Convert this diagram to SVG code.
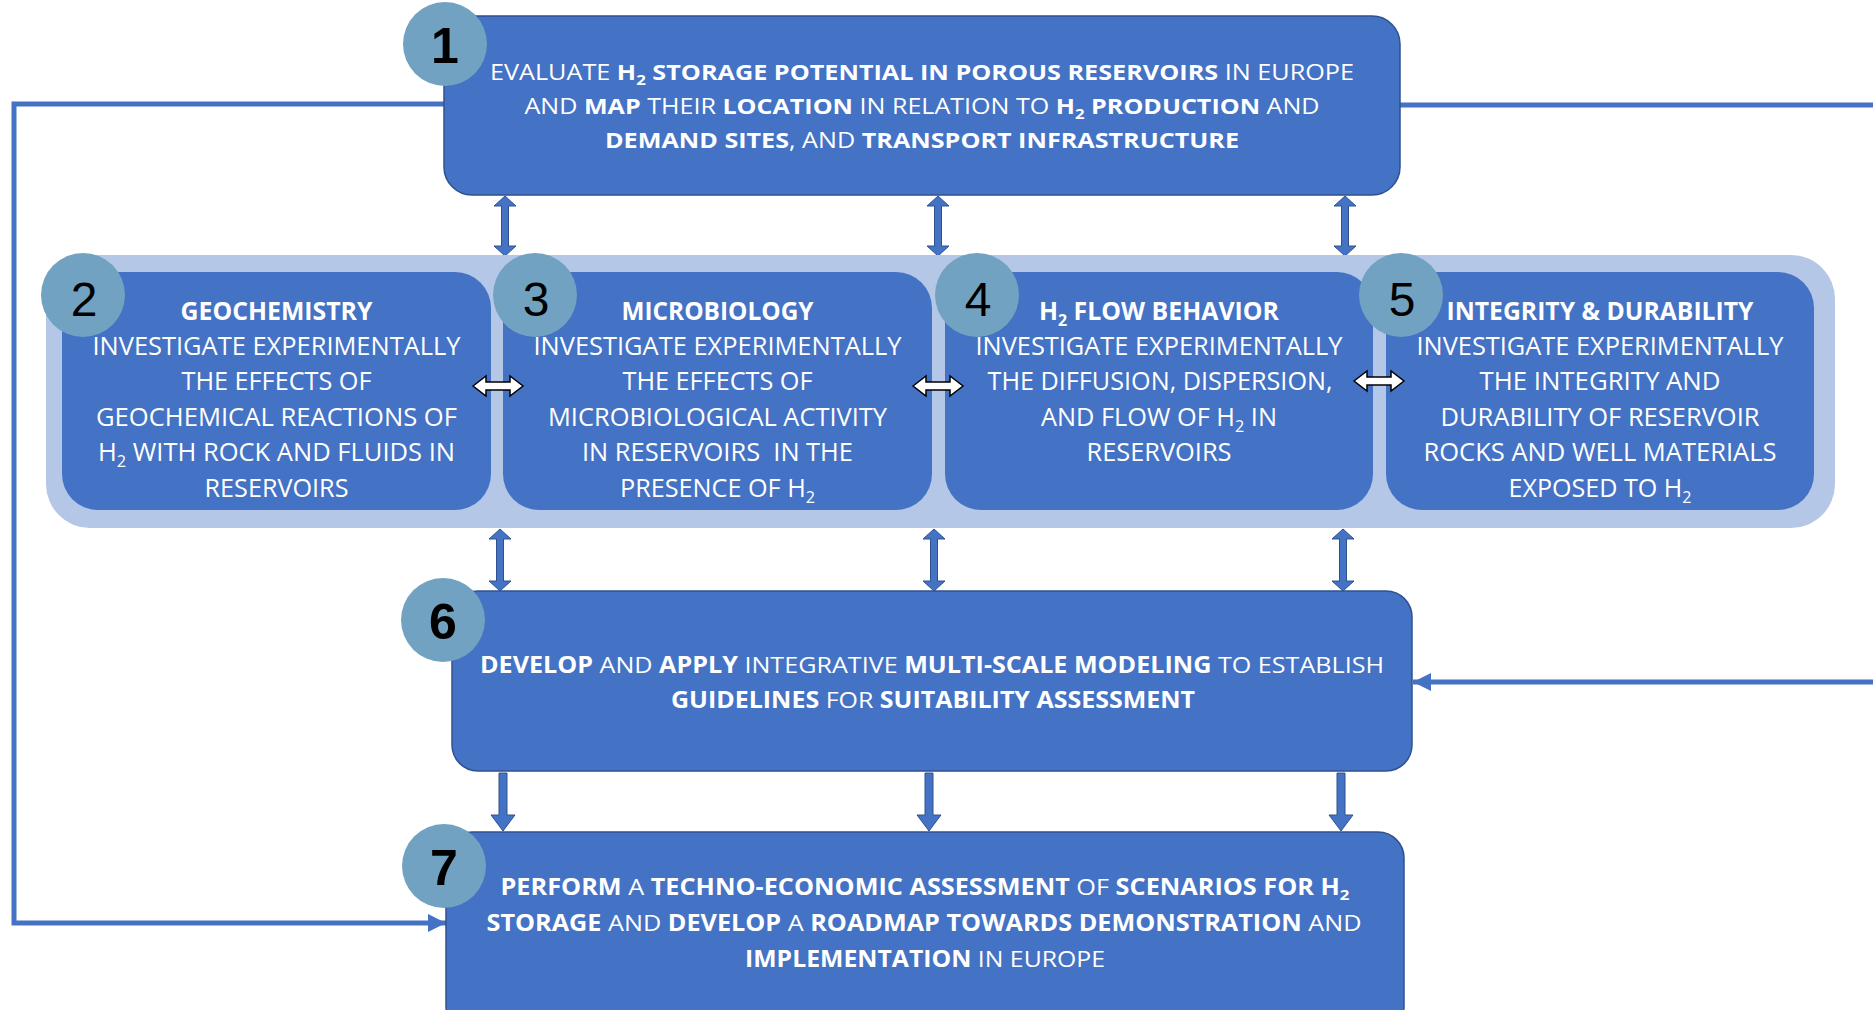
<svg xmlns="http://www.w3.org/2000/svg" width="1873" height="1010" viewBox="0 0 1873 1010">
<style>
.box{fill:#4472C4;stroke:#2F528F;stroke-width:1.5}
.inner{fill:#4472C4}
.band{fill:#B4C7E7}
.num{fill:#71A2C1}
.dg{font-family:"Liberation Sans",Arial,sans-serif;font-size:48px;fill:#000;text-anchor:middle}
.dgb{font-size:50px;font-weight:bold}
.t{font-family:"Open Sans","Liberation Sans",sans-serif;fill:#fff;text-anchor:middle}
.t1{font-size:21px}
.t2{font-size:25px}
.t6{font-size:22.5px}
.b{font-weight:bold}
.line{fill:none;stroke:#4472C4;stroke-width:5}
.blk{fill:#4472C4;stroke:#2F528F;stroke-width:1}
.wht{fill:#fff;stroke:#000;stroke-width:1.5}
</style>
<defs>
<marker id="ah" markerUnits="userSpaceOnUse" markerWidth="20" markerHeight="20" refX="18" refY="9" orient="auto">
<path d="M0,0 L18,9 L0,18 Z" fill="#4472C4"/>
</marker>
<path id="vdbl" d="M0,0 L11,10 L3.5,10 L3.5,50 L11,50 L0,60 L-11,50 L-3.5,50 L-3.5,10 L-11,10 Z"/>
<path id="vdbl2" d="M0,0 L11,10 L3.5,10 L3.5,52 L11,52 L0,62 L-11,52 L-3.5,52 L-3.5,10 L-11,10 Z"/>
<path id="vdown" d="M-4,0 L4,0 L4,42 L12,42 L0,58 L-12,42 L-4,42 Z"/>
<path id="hdbl" d="M0,0 L13,-10 L13,-4 L37,-4 L37,-10 L50,0 L37,10 L37,4 L13,4 L13,10 Z"/>
</defs>
<rect width="1873" height="1010" fill="#fff"/>

<g id="connectors">
<path class="line" d="M444,104 H14 V923 H446" marker-end="url(#ah)"/>
<path class="line" d="M1400,105 H1880"/>
<path class="line" d="M1880,682 H1413" marker-end="url(#ah)"/>
<use href="#vdbl" class="blk" x="505" y="196"/>
<use href="#vdbl" class="blk" x="938" y="196"/>
<use href="#vdbl" class="blk" x="1345" y="196"/>
<use href="#vdbl2" class="blk" x="500" y="529"/>
<use href="#vdbl2" class="blk" x="934" y="529"/>
<use href="#vdbl2" class="blk" x="1343" y="529"/>
<use href="#vdown" class="blk" x="503" y="773"/>
<use href="#vdown" class="blk" x="929" y="773"/>
<use href="#vdown" class="blk" x="1341" y="773"/>
</g>

<g id="band">
<rect class="band" x="46" y="255" width="1789" height="273" rx="44"/>
</g>

<g id="node1">
<rect class="box" x="444" y="16" width="956" height="179" rx="28"/>
<text class="t t1" x="922" y="80" textLength="864" lengthAdjust="spacingAndGlyphs">EVALUATE <tspan class="b">H<tspan font-size="14" dy="5">2</tspan><tspan dy="-5"> STORAGE POTENTIAL IN POROUS RESERVOIRS</tspan></tspan> IN EUROPE</text>
<text class="t t1" x="922" y="114" textLength="795" lengthAdjust="spacingAndGlyphs">AND <tspan class="b">MAP</tspan> THEIR <tspan class="b">LOCATION</tspan> IN RELATION TO <tspan class="b">H<tspan font-size="14" dy="5">2</tspan><tspan dy="-5"> PRODUCTION</tspan></tspan> AND</text>
<text class="t t1" x="922" y="148" textLength="634" lengthAdjust="spacingAndGlyphs"><tspan class="b">DEMAND SITES</tspan>, AND <tspan class="b">TRANSPORT INFRASTRUCTURE</tspan></text>
<circle class="num" cx="445" cy="44" r="42"/>
<text class="dg dgb" x="445" y="63">1</text>
</g>

<g id="node2">
<rect class="inner" x="62" y="272" width="429" height="238" rx="36"/>
<text class="t t2 b" x="276.5" y="320" textLength="192" lengthAdjust="spacingAndGlyphs">GEOCHEMISTRY</text>
<text class="t t2" x="276.5" y="355" textLength="368" lengthAdjust="spacingAndGlyphs">INVESTIGATE EXPERIMENTALLY</text>
<text class="t t2" x="276.5" y="390" textLength="190" lengthAdjust="spacingAndGlyphs">THE EFFECTS OF</text>
<text class="t t2" x="276.5" y="426" textLength="361" lengthAdjust="spacingAndGlyphs">GEOCHEMICAL REACTIONS OF</text>
<text class="t t2" x="276.5" y="461" textLength="357" lengthAdjust="spacingAndGlyphs">H<tspan font-size="16" dy="6">2</tspan><tspan dy="-6"> WITH ROCK AND FLUIDS IN</tspan></text>
<text class="t t2" x="276.5" y="497" textLength="144" lengthAdjust="spacingAndGlyphs">RESERVOIRS</text>
<circle class="num" cx="83" cy="295" r="42"/>
<text class="dg" x="84" y="316">2</text>
</g>

<g id="node3">
<rect class="inner" x="503" y="272" width="429" height="238" rx="36"/>
<text class="t t2 b" x="717.5" y="320" textLength="192" lengthAdjust="spacingAndGlyphs">MICROBIOLOGY</text>
<text class="t t2" x="717.5" y="355" textLength="368" lengthAdjust="spacingAndGlyphs">INVESTIGATE EXPERIMENTALLY</text>
<text class="t t2" x="717.5" y="390" textLength="190" lengthAdjust="spacingAndGlyphs">THE EFFECTS OF</text>
<text class="t t2" x="717.5" y="426" textLength="339" lengthAdjust="spacingAndGlyphs">MICROBIOLOGICAL ACTIVITY</text>
<text class="t t2" x="717.5" y="461" textLength="271" lengthAdjust="spacingAndGlyphs" xml:space="preserve">IN RESERVOIRS  IN THE</text>
<text class="t t2" x="717.5" y="497" textLength="195" lengthAdjust="spacingAndGlyphs">PRESENCE OF H<tspan font-size="16" dy="6">2</tspan></text>
<circle class="num" cx="535" cy="295" r="42"/>
<text class="dg" x="536" y="316">3</text>
</g>

<g id="node4">
<rect class="inner" x="945" y="272" width="428" height="238" rx="36"/>
<text class="t t2 b" x="1159" y="320" textLength="240" lengthAdjust="spacingAndGlyphs">H<tspan font-size="16" dy="6">2</tspan><tspan dy="-6"> FLOW BEHAVIOR</tspan></text>
<text class="t t2" x="1159" y="355" textLength="367" lengthAdjust="spacingAndGlyphs">INVESTIGATE EXPERIMENTALLY</text>
<text class="t t2" x="1160" y="390" textLength="345" lengthAdjust="spacingAndGlyphs">THE DIFFUSION, DISPERSION,</text>
<text class="t t2" x="1159" y="426" textLength="236" lengthAdjust="spacingAndGlyphs">AND FLOW OF H<tspan font-size="16" dy="6">2</tspan><tspan dy="-6"> IN</tspan></text>
<text class="t t2" x="1159" y="461" textLength="145" lengthAdjust="spacingAndGlyphs">RESERVOIRS</text>
<circle class="num" cx="977" cy="295" r="42"/>
<text class="dg" x="978" y="316">4</text>
</g>

<g id="node5">
<rect class="inner" x="1386" y="272" width="428" height="238" rx="36"/>
<text class="t t2 b" x="1600" y="320" textLength="307" lengthAdjust="spacingAndGlyphs">INTEGRITY &amp; DURABILITY</text>
<text class="t t2" x="1600" y="355" textLength="367" lengthAdjust="spacingAndGlyphs">INVESTIGATE EXPERIMENTALLY</text>
<text class="t t2" x="1600" y="390" textLength="241" lengthAdjust="spacingAndGlyphs">THE INTEGRITY AND</text>
<text class="t t2" x="1600" y="426" textLength="319" lengthAdjust="spacingAndGlyphs">DURABILITY OF RESERVOIR</text>
<text class="t t2" x="1600" y="461" textLength="353" lengthAdjust="spacingAndGlyphs">ROCKS AND WELL MATERIALS</text>
<text class="t t2" x="1600" y="497" textLength="183" lengthAdjust="spacingAndGlyphs">EXPOSED TO H<tspan font-size="16" dy="6">2</tspan></text>
<circle class="num" cx="1401" cy="295" r="42"/>
<text class="dg" x="1402" y="316">5</text>
</g>

<g id="hconnectors">
<use href="#hdbl" class="wht" x="473" y="386"/>
<use href="#hdbl" class="wht" x="913" y="386"/>
<use href="#hdbl" class="wht" x="1354" y="381"/>
</g>

<g id="node6">
<rect class="box" x="452" y="591" width="960" height="180" rx="26"/>
<text class="t t6" x="932" y="673" textLength="904" lengthAdjust="spacingAndGlyphs"><tspan class="b">DEVELOP</tspan> AND <tspan class="b">APPLY</tspan> INTEGRATIVE <tspan class="b">MULTI-SCALE MODELING</tspan> TO ESTABLISH</text>
<text class="t t6" x="933" y="708" textLength="524" lengthAdjust="spacingAndGlyphs"><tspan class="b">GUIDELINES</tspan> FOR <tspan class="b">SUITABILITY ASSESSMENT</tspan></text>
<circle class="num" cx="443" cy="620" r="42"/>
<text class="dg dgb" x="443" y="639">6</text>
</g>

<g id="node7">
<rect class="box" x="446" y="832" width="958" height="200" rx="26"/>
<text class="t t6" x="925" y="895" textLength="849" lengthAdjust="spacingAndGlyphs"><tspan class="b">PERFORM</tspan> A <tspan class="b">TECHNO-ECONOMIC ASSESSMENT</tspan> OF <tspan class="b">SCENARIOS FOR H<tspan font-size="15" dy="5">2</tspan></tspan></text>
<text class="t t6" x="924" y="931" textLength="875" lengthAdjust="spacingAndGlyphs"><tspan class="b">STORAGE</tspan> AND <tspan class="b">DEVELOP</tspan> A <tspan class="b">ROADMAP TOWARDS DEMONSTRATION</tspan> AND</text>
<text class="t t6" x="925" y="967" textLength="360" lengthAdjust="spacingAndGlyphs"><tspan class="b">IMPLEMENTATION</tspan> IN EUROPE</text>
<circle class="num" cx="444" cy="866" r="42"/>
<text class="dg dgb" x="444" y="885">7</text>
</g>
</svg>
